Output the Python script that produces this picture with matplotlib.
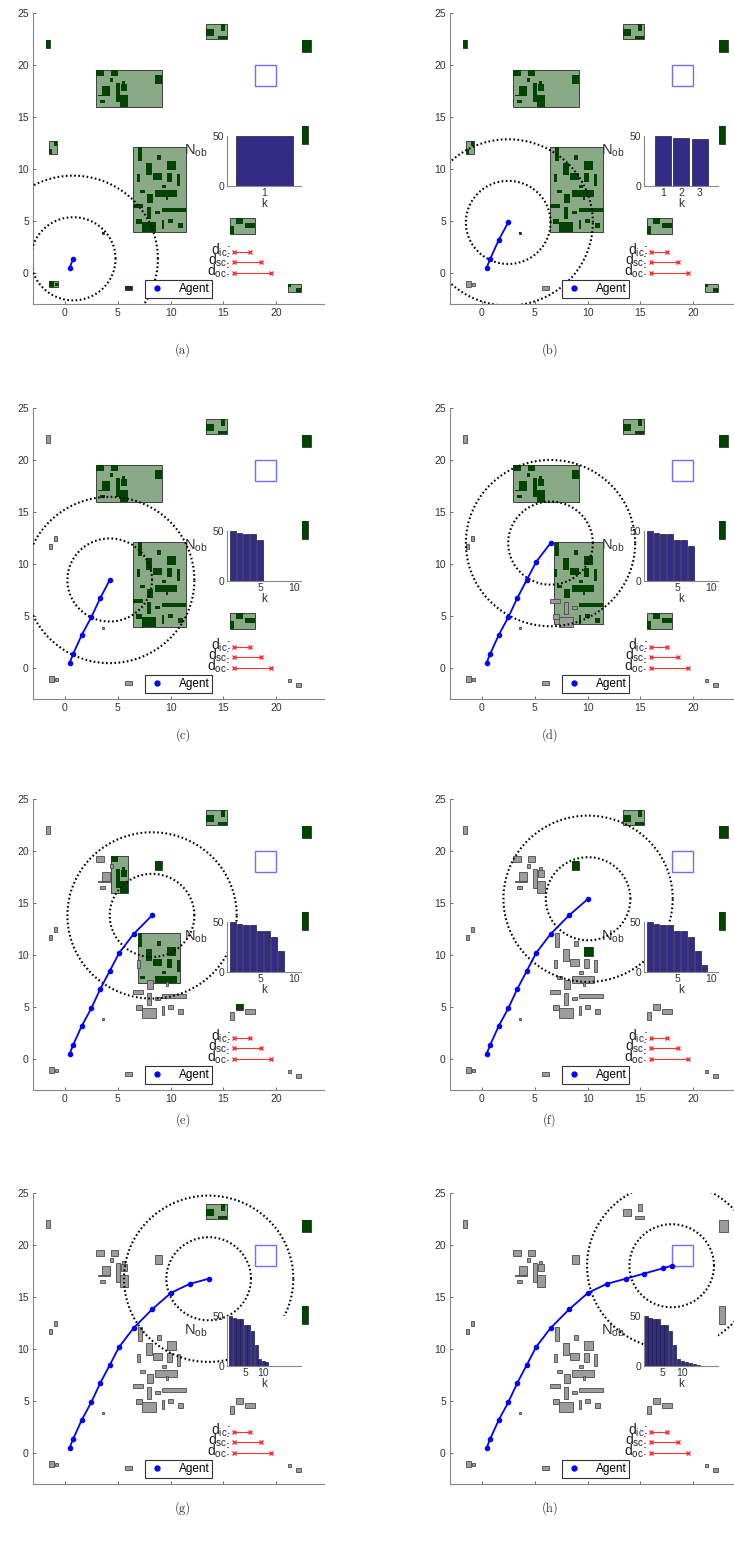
import matplotlib.pyplot as plt
import matplotlib.patches as mpatches
from matplotlib.lines import Line2D
import numpy as np

plt.rcParams['font.family'] = ['Liberation Sans', 'DejaVu Sans']

# agent waypoints (the whole run) and how many are shown in each panel
path_x = [0.45, 0.8, 1.6, 2.5, 3.35, 4.25, 5.15, 6.5, 8.25, 10.05, 11.8, 13.6, 15.35, 17.1, 17.95]
path_y = [0.45, 1.35, 3.15, 4.85, 6.7, 8.45, 10.2, 12.0, 13.8, 15.4, 16.25, 16.75, 17.25, 17.75, 18.0]
n_shown = [2, 4, 6, 8, 9, 10, 12, 15]
panel_labels = ['(a)', '(b)', '(c)', '(d)', '(e)', '(f)', '(g)', '(h)']

# number of unobserved obstacles per step k
n_ob = [50, 48, 47, 47, 41, 41, 35, 21, 7, 5, 4, 2.5, 1.5, 0.8]
bar_xlim = [(0.45, 1.55), (0, 4), (0.2, 11), (0.2, 11), (0.2, 11), (0.2, 11), (0, 20.5), (0.5, 19)]
bar_xticks = [[1], [1, 2, 3], [5, 10], [5, 10], [5, 10], [5, 10], [5, 10], [5, 10]]

r_inner = 4
r_outer = 8
goal = (18, 18, 2, 2)

# obstacles: lower-left corner, size, cluster, sub-group, panel index where it is first observed
obs_x = [-1.8,
         -1.45, -1.0,
         2.97, 4.4, 4.23, 3.54, 3.1, 3.3, 4.8, 5.28, 5.43, 5.2, 8.5,
         6.9, 8.75, 9.7, 7.65, 8.34, 9.64, 10.58, 6.8, 9.2, 7.1, 8.5,
         9.54, 7.74, 6.45, 7.74, 8.53, 9.22, 6.76, 7.33, 9.16, 9.8, 10.68,
         13.33, 14.75, 14.5,
         22.4, 22.4,
         15.64, 16.18, 17.06,
         -1.5, -0.9,
         5.7,
         21.1, 21.9,
         3.5]
obs_y = [21.6,
         11.4, 12.2,
         18.9, 18.9, 18.4, 17.15, 17.0, 16.3, 16.4, 17.5, 18.2, 16.0, 18.2,
         10.8, 10.85, 9.9, 9.43, 8.94, 8.7, 8.37, 8.7, 8.14, 7.66, 7.34,
         7.0, 6.7, 6.27, 5.15, 5.63, 5.86, 4.67, 3.93, 4.25, 4.83, 4.34,
         22.8, 23.3, 22.5,
         21.2, 12.4,
         3.76, 4.67, 4.34,
         -1.4, -1.3,
         -1.65,
         -1.35, -1.87,
         3.7]
obs_w = [0.4,
         0.25, 0.25,
         0.73, 0.65, 0.32, 0.73, 1.17, 0.46, 0.38, 0.62, 0.29, 0.8, 0.66,
         0.37, 0.32, 0.8, 0.63, 0.82, 0.53, 0.32, 0.28, 0.34, 0.45, 2.15,
         0.22, 0.63, 0.95, 0.44, 0.44, 2.25, 0.57, 1.27, 0.22, 0.47, 0.5,
         0.73, 0.38, 0.8,
         0.9, 0.55,
         0.31, 0.62, 0.91,
         0.5, 0.25,
         0.7,
         0.3, 0.4,
         0.2]
obs_h = [0.8,
         0.5, 0.5,
         0.6, 0.6, 0.3, 0.85, 0.15, 0.3, 1.9, 0.7, 0.3, 1.1, 0.85,
         1.27, 0.51, 0.9, 1.12, 0.66, 0.9, 1.13, 0.8, 0.32, 0.32, 0.64,
         0.4, 0.86, 0.39, 1.22, 0.32, 0.41, 0.48, 0.97, 0.83, 0.37, 0.49,
         0.7, 0.6, 0.25,
         1.2, 1.7,
         0.74, 0.63, 0.49,
         0.6, 0.3,
         0.35,
         0.25, 0.42,
         0.2]
obs_cluster = [1,
               2, 2,
               3, 3, 3, 3, 3, 3, 3, 3, 3, 3, 3,
               4, 4, 4, 4, 4, 4, 4, 4, 4, 4, 4,
               4, 4, 4, 4, 4, 4, 4, 4, 4, 4, 4,
               5, 5, 5,
               6, 7,
               8, 8, 8,
               9, 9,
               10,
               11, 11,
               12]
obs_sub = [0] * 13 + [1] + [0] * 36
obs_reveal = [2,
              2, 2,
              4, 5, 4, 4, 4, 4, 5, 5, 5, 5, 6,
              5, 5, 6, 5, 5, 5, 5, 4, 5, 5, 5,
              4, 4, 3, 3, 3, 4, 3, 3, 4, 4, 4,
              7, 7, 7,
              7, 7,
              4, 5, 4,
              1, 1,
              1,
              2, 2,
              2]

W, H = 734, 1542
fig = plt.figure(figsize=(W / 100, H / 100), dpi=100)

col_left = [33, 450]
row_top = [13, 408, 799, 1193]
ax_w, ax_h = 291, 291
cap_x = [183, 550]
cap_y = [350, 735, 1120, 1508]

light_green = '#89a987'
dark_green = '#004400'
gray_fill = '#9c9c9c'

for p in range(8):
    r, c = divmod(p, 2)
    ax = fig.add_axes([col_left[c] / W, 1 - (row_top[r] + ax_h) / H, ax_w / W, ax_h / H])
    ax.set_xlim(-3, 24.5)
    ax.set_ylim(-3, 25)

    # unobserved clusters: light box around the obstacles not yet seen
    for cl in sorted(set(obs_cluster)):
        members = [i for i in range(len(obs_x)) if obs_cluster[i] == cl]
        hidden = [i for i in members if obs_reveal[i] > p]
        if not hidden:
            continue
        if len(hidden) == len(members):
            groups = [hidden]
        else:
            groups = [[i for i in hidden if obs_sub[i] == s] for s in sorted(set(obs_sub[i] for i in hidden))]
        for g in groups:
            x0 = min(obs_x[i] for i in g)
            y0 = min(obs_y[i] for i in g)
            x1 = max(obs_x[i] + obs_w[i] for i in g)
            y1 = max(obs_y[i] + obs_h[i] for i in g)
            ax.add_patch(mpatches.Rectangle((x0, y0), x1 - x0, y1 - y0, facecolor=light_green,
                                            edgecolor='#2a2a2a', lw=0.6, zorder=1))
        for i in hidden:
            ax.add_patch(mpatches.Rectangle((obs_x[i], obs_y[i]), obs_w[i], obs_h[i],
                                            facecolor=dark_green, edgecolor='none', zorder=2))

    # observed obstacles
    for i in range(len(obs_x)):
        if obs_reveal[i] <= p:
            ax.add_patch(mpatches.Rectangle((obs_x[i], obs_y[i]), obs_w[i], obs_h[i],
                                            facecolor=gray_fill, edgecolor='#4a4a4a', lw=0.6, zorder=3))

    # goal
    ax.add_patch(mpatches.Rectangle(goal[:2], goal[2], goal[3], facecolor='none',
                                    edgecolor='#7070ff', lw=1.0, zorder=3))

    # trajectory and sensing circles
    n = n_shown[p]
    px, py = path_x[:n], path_y[:n]
    ax.plot(px, py, '-o', color='#0000ff', lw=1.3, ms=3, zorder=6)
    t = np.linspace(0, 2 * np.pi, 400)
    for rad in (r_inner, r_outer):
        ax.plot(px[-1] + rad * np.cos(t), py[-1] + rad * np.sin(t), color='black',
                lw=1.5, ls=(0, (0.8, 1.2)), zorder=5)

    # distance legend
    d_lab = [r'$\mathregular{d_{ic}}$:', r'$\mathregular{d_{sc}}$:', r'$\mathregular{d_{oc}}$:']
    d_len = [1.5, 2.5, 3.5]
    for j in range(3):
        yy = 2 - j
        ax.plot([16, 16 + d_len[j]], [yy, yy], '-x', color='#ff3030', lw=0.8, ms=3.5, mew=1, zorder=4)
        ax.text(15.65, yy - 0.25, d_lab[j], ha='right', va='baseline', fontsize=10, color='#222222')

    ax.text(12.4, 11.7, r'$\mathregular{N_{ob}}$', ha='center', va='center', fontsize=10.5,
            color='#333333', zorder=4)

    leg = ax.legend(handles=[Line2D([], [], marker='o', ls='none', color='#0000ff', ms=3.5, label='Agent')],
                    loc='lower center', bbox_to_anchor=(0.5, 0.02), fancybox=False, edgecolor='#333333',
                    framealpha=1, fontsize=8.5, handlelength=1.6, borderpad=0.25, handletextpad=1.0,
                    borderaxespad=0)
    leg.get_frame().set_linewidth(0.8)
    leg.set_zorder(7)

    ax.set_xticks([0, 5, 10, 15, 20])
    ax.set_yticks([0, 5, 10, 15, 20, 25])
    ax.tick_params(direction='in', length=2.5, width=0.6, labelsize=7.5, colors='#555555',
                   labelcolor='#333333', pad=3)
    if r == 3:
        ax.tick_params(labelbottom=False)
    for s in ('top', 'right'):
        ax.spines[s].set_visible(False)
    for s in ('left', 'bottom'):
        ax.spines[s].set_color('#888888')
        ax.spines[s].set_linewidth(0.8)

    # inset bar chart of N_ob
    ins = ax.inset_axes([15.35, 8.4, 7.0, 4.8], transform=ax.transData)
    nb = n - 1
    ins.bar(np.arange(1, nb + 1), n_ob[:nb], width=0.85, color='#332b85', edgecolor='#1c1c3c', lw=0.5)
    ins.set_xlim(*bar_xlim[p])
    ins.set_ylim(0, 50)
    ins.set_xticks(bar_xticks[p])
    ins.set_yticks([0, 50])
    ins.tick_params(direction='in', length=0, labelsize=7.5, labelcolor='#333333', pad=2)
    ins.set_xlabel('k', fontsize=8.5, color='#333333', labelpad=0)
    for s in ('top', 'right'):
        ins.spines[s].set_visible(False)
    for s in ('left', 'bottom'):
        ins.spines[s].set_color('#888888')
        ins.spines[s].set_linewidth(0.8)

    fig.text(cap_x[c] / W, 1 - cap_y[r] / H, panel_labels[p], ha='center', va='center',
             fontsize=9, family=['cmr10', 'DejaVu Serif'], color='#333333')

fig.savefig('out.png', dpi=100)
